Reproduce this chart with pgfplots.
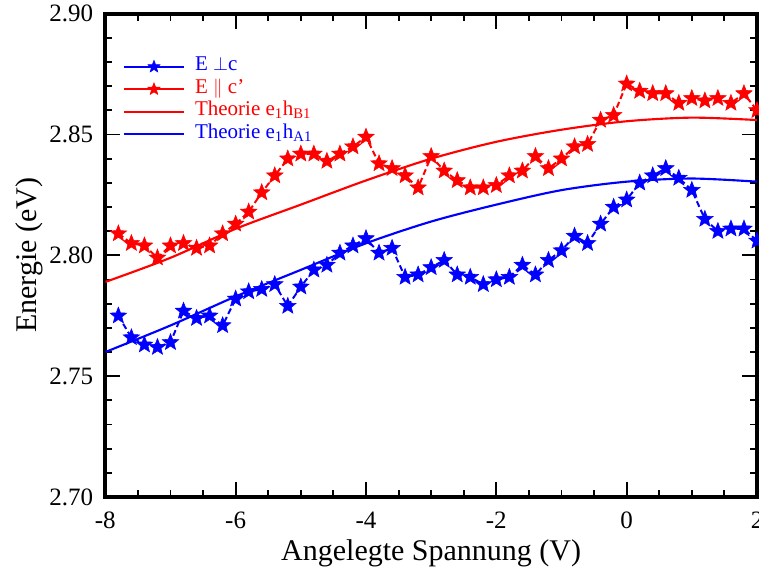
\documentclass[border=0pt]{standalone}
\usepackage{fontspec}
\setmainfont{Liberation Serif}
\usepackage{pgfplots}
\pgfplotsset{compat=1.18}

\pgfdeclareplotmark{fstar}{%
  \pgfpathmoveto{\pgfpointpolar{90}{\pgfplotmarksize}}%
  \pgfpathlineto{\pgfpointpolar{126}{0.43\pgfplotmarksize}}%
  \pgfpathlineto{\pgfpointpolar{162}{\pgfplotmarksize}}%
  \pgfpathlineto{\pgfpointpolar{198}{0.43\pgfplotmarksize}}%
  \pgfpathlineto{\pgfpointpolar{234}{\pgfplotmarksize}}%
  \pgfpathlineto{\pgfpointpolar{270}{0.43\pgfplotmarksize}}%
  \pgfpathlineto{\pgfpointpolar{306}{\pgfplotmarksize}}%
  \pgfpathlineto{\pgfpointpolar{342}{0.43\pgfplotmarksize}}%
  \pgfpathlineto{\pgfpointpolar{18}{\pgfplotmarksize}}%
  \pgfpathlineto{\pgfpointpolar{54}{0.43\pgfplotmarksize}}%
  \pgfpathclose
  \pgfusepathqfillstroke
}

\pgfplotstableread{
x y
-7.8 2.775
-7.6 2.766
-7.4 2.763
-7.2 2.762
-7.0 2.764
-6.8 2.777
-6.6 2.774
-6.4 2.775
-6.2 2.771
-6.0 2.782
-5.8 2.785
-5.6 2.786
-5.4 2.788
-5.2 2.779
-5.0 2.787
-4.8 2.794
-4.6 2.796
-4.4 2.801
-4.2 2.804
-4.0 2.807
-3.8 2.801
-3.6 2.803
-3.4 2.791
-3.2 2.792
-3.0 2.795
-2.8 2.798
-2.6 2.792
-2.4 2.791
-2.2 2.788
-2.0 2.790
-1.8 2.791
-1.6 2.796
-1.4 2.792
-1.2 2.798
-1.0 2.802
-0.8 2.808
-0.6 2.805
-0.4 2.813
-0.2 2.820
0.0 2.823
0.2 2.830
0.4 2.833
0.6 2.836
0.8 2.832
1.0 2.827
1.2 2.815
1.4 2.810
1.6 2.811
1.8 2.811
2.0 2.806
}\perpdata

\pgfplotstableread{
x y
-7.8 2.809
-7.6 2.805
-7.4 2.804
-7.2 2.799
-7.0 2.804
-6.8 2.805
-6.6 2.803
-6.4 2.804
-6.2 2.809
-6.0 2.813
-5.8 2.818
-5.6 2.826
-5.4 2.833
-5.2 2.840
-5.0 2.842
-4.8 2.842
-4.6 2.839
-4.4 2.842
-4.2 2.845
-4.0 2.849
-3.8 2.838
-3.6 2.836
-3.4 2.833
-3.2 2.828
-3.0 2.841
-2.8 2.835
-2.6 2.831
-2.4 2.828
-2.2 2.828
-2.0 2.829
-1.8 2.833
-1.6 2.835
-1.4 2.841
-1.2 2.836
-1.0 2.840
-0.8 2.845
-0.6 2.846
-0.4 2.856
-0.2 2.858
0.0 2.871
0.2 2.868
0.4 2.867
0.6 2.867
0.8 2.863
1.0 2.865
1.2 2.864
1.4 2.865
1.6 2.863
1.8 2.867
2.0 2.860
}\pardata

\pgfplotstableread{
x y
-8 2.789
-7 2.799
-6 2.811
-5 2.821
-4 2.831
-3 2.840
-2 2.847
-1 2.852
0 2.8555
1 2.857
2 2.856
}\thB

\pgfplotstableread{
x y
-8 2.760
-7 2.771
-6 2.783
-5 2.794
-4 2.805
-3 2.814
-2 2.821
-1 2.827
0 2.8305
1 2.8318
2 2.8305
}\thA

\begin{document}
\begin{tikzpicture}
\begin{axis}[name=ax,
  scale only axis, width=488.8pt, height=362.5pt,
  xmin=-8, xmax=2, ymin=2.70, ymax=2.90,
  xtick={-8,-6,-4,-2,0,2}, ytick={2.70,2.75,2.80,2.85,2.90},
  minor x tick num=3, minor y tick num=4,
  tick align=inside, major tick length=11.25pt, minor tick length=5.25pt,
  every tick/.style={line width=1.4pt, black},
  axis line style={line width=3pt, line cap=rect},
  /pgf/number format/assume math mode=true,
  yticklabel style={/pgf/number format/fixed, /pgf/number format/fixed zerofill, /pgf/number format/precision=2},
  yticklabel style={font=\fontsize{18.75}{20}\selectfont, inner sep=0pt, xshift=-9pt},
  xticklabel style={font=\fontsize{18.75}{20}\selectfont, inner sep=0pt, yshift=-11pt},
  xlabel={Angelegte Spannung (V)},
  ylabel={Energie (eV)},
  xlabel style={font=\fontsize{22.5}{24}\selectfont, at={(axis description cs:0.5,0)}, anchor=base, yshift=-47.25pt},
  ylabel style={font=\fontsize{22.5}{24}\selectfont, at={(axis description cs:0,0.5)}, anchor=center, rotate=0, xshift=0pt, yshift=57pt},
  clip mode=individual,
  legend cell align=left,
  legend image code/.code={\draw[#1,solid,mark repeat=2,mark phase=2,mark size=4.8pt] plot coordinates {(0pt,0pt) (22.5pt,0pt) (45pt,0pt)};},
  legend style={draw=none, fill=none, at={(rel axis cs:0,1)}, anchor=north west,
    xshift=13pt, yshift=-31.7pt, inner sep=0pt, row sep=1.1pt, column sep=7.5pt,
    font=\fontsize{15.75}{16}\selectfont,
    nodes={inner sep=0pt, text height=11pt, text depth=4.75pt}},
]
\addplot[blue, line width=1.5pt, dash pattern=on 4.5pt off 2.5pt, mark=fstar, mark size=6.5pt, mark options={solid, line width=0.4pt, fill=blue}] table[x=x,y=y] {\perpdata};
\addlegendentry{\textcolor{blue}{E $\perp$c}}
\addplot[red, line width=1.5pt, dash pattern=on 4.5pt off 2.5pt, mark=fstar, mark size=6.5pt, mark options={solid, line width=0.4pt, fill=red}] table[x=x,y=y] {\pardata};
\addlegendentry{\textcolor{red}{E $\|$ c'}}
\addplot[red, line width=1.6pt, smooth] table[x=x,y=y] {\thB};
\addlegendentry{\textcolor{red}{Theorie e\textsubscript{1}h\textsubscript{B1}}}
\addplot[blue, line width=1.6pt, smooth] table[x=x,y=y] {\thA};
\addlegendentry{\textcolor{blue}{Theorie e\textsubscript{1}h\textsubscript{A1}}}
\end{axis}
\pgfresetboundingbox
\path[use as bounding box] ([xshift=-79pt,yshift=-55.5pt]ax.south west) rectangle ([xshift=1.5pt,yshift=10.3pt]ax.north east);
\end{tikzpicture}
\end{document}
